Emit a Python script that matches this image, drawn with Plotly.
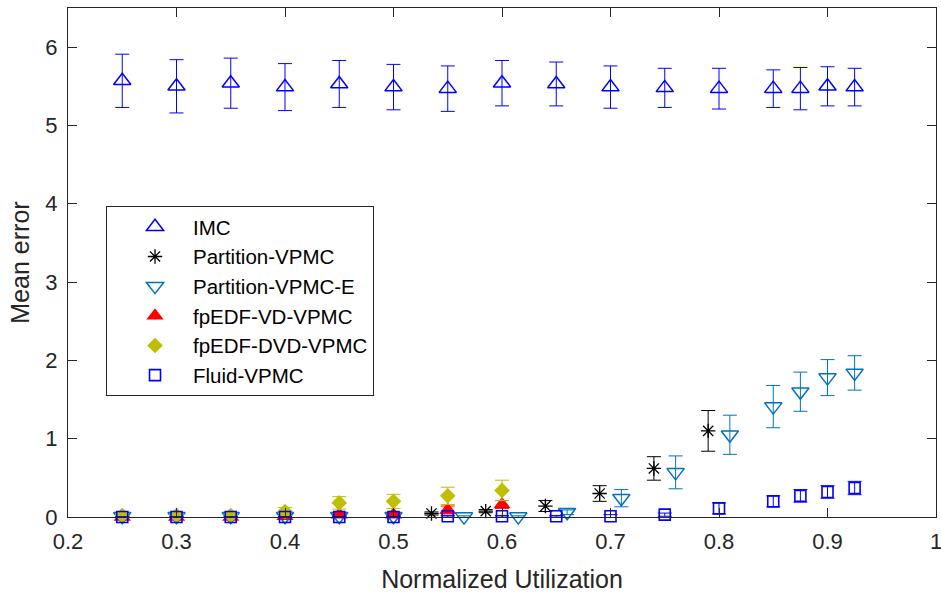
import plotly.graph_objects as go

# Normalized utilization levels
u_imc = [0.25, 0.3, 0.35, 0.4, 0.45, 0.5, 0.55, 0.6, 0.65, 0.7, 0.75, 0.8, 0.85, 0.875, 0.9, 0.925]
imc_mean = [5.57, 5.50, 5.54, 5.49, 5.53, 5.49, 5.47, 5.54, 5.53, 5.49, 5.48, 5.47, 5.47, 5.47, 5.50, 5.49]
imc_err = [0.34, 0.34, 0.32, 0.30, 0.30, 0.29, 0.29, 0.29, 0.28, 0.27, 0.25, 0.26, 0.24, 0.27, 0.25, 0.24]

u_part = [0.535, 0.585, 0.64, 0.69, 0.74, 0.79]
part_mean = [0.045, 0.075, 0.14, 0.30, 0.62, 1.10]
part_err = [0.02, 0.02, 0.07, 0.10, 0.15, 0.26]

u_parte = [0.25, 0.3, 0.35, 0.4, 0.45, 0.5, 0.565, 0.615, 0.66, 0.71, 0.76, 0.81, 0.85, 0.875, 0.9, 0.925]
parte_mean = [0.01, 0.01, 0.01, 0.01, 0.01, 0.01, 0.005, 0.005, 0.06, 0.24, 0.57, 1.05, 1.41, 1.60, 1.78, 1.84]
parte_err = [0.01, 0.01, 0.01, 0.01, 0.01, 0.01, 0.01, 0.01, 0.03, 0.11, 0.21, 0.25, 0.27, 0.25, 0.23, 0.22]

u_vd = [0.25, 0.3, 0.35, 0.4, 0.45, 0.5, 0.55, 0.6]
vd_mean = [0.0, 0.0, 0.0, 0.01, 0.03, 0.03, 0.09, 0.16]
vd_err = [0.005, 0.005, 0.005, 0.01, 0.02, 0.02, 0.05, 0.05]

u_dvd = [0.25, 0.3, 0.35, 0.4, 0.45, 0.5, 0.55, 0.6]
dvd_mean = [0.02, 0.02, 0.02, 0.07, 0.18, 0.20, 0.27, 0.34]
dvd_err = [0.01, 0.01, 0.01, 0.05, 0.08, 0.09, 0.11, 0.13]

u_fluid = [0.25, 0.3, 0.35, 0.4, 0.45, 0.5, 0.55, 0.6, 0.65, 0.7, 0.75, 0.8, 0.85, 0.875, 0.9, 0.925]
fluid_mean = [0.0, 0.0, 0.0, 0.0, 0.0, 0.0, 0.01, 0.01, 0.01, 0.01, 0.03, 0.11, 0.20, 0.27, 0.32, 0.37]
fluid_err = [0.005, 0.005, 0.005, 0.005, 0.005, 0.005, 0.01, 0.01, 0.01, 0.02, 0.02, 0.07, 0.07, 0.08, 0.08, 0.085]

x_ticks = [0.2, 0.3, 0.4, 0.5, 0.6, 0.7, 0.8, 0.9, 1.0]
x_tick_text = ["0.2", "0.3", "0.4", "0.5", "0.6", "0.7", "0.8", "0.9", "1"]
y_ticks = [0, 1, 2, 3, 4, 5, 6]

AX = "#262626"
FONT = "Liberation Sans, Arial, sans-serif"

series = [
    ("IMC", u_imc, imc_mean, imc_err, "#0000ff", "triangle-up-open", 15, 1.5),
    ("Partition-VPMC", u_part, part_mean, part_err, "#000000", "asterisk-open", 12, 1.3),
    ("Partition-VPMC-E", u_parte, parte_mean, parte_err, "#0072bd", "triangle-down-open", 15, 1.5),
    ("fpEDF-VD-VPMC", u_vd, vd_mean, vd_err, "#ff0000", "triangle-up", 15, 0),
    ("fpEDF-DVD-VPMC", u_dvd, dvd_mean, dvd_err, "#bfbf00", "diamond", 12, 0),
    ("Fluid-VPMC", u_fluid, fluid_mean, fluid_err, "#0000ff", "square-open", 11, 1.6),
]

fig = go.Figure()
for name, xs, ys, es, color, symbol, size, lw in series:
    fig.add_trace(go.Scatter(
        x=xs, y=ys, name=name, mode="markers", cliponaxis=False,
        marker=dict(symbol=symbol, size=size, color=color,
                    line=dict(color=color, width=lw)),
        error_y=dict(type="data", array=es, visible=True, width=7,
                     thickness=1, color=color),
    ))

axis_common = dict(
    showline=True, linecolor=AX, linewidth=1, mirror="ticks",
    ticks="inside", ticklen=9, tickwidth=1, tickcolor=AX,
    showgrid=False, zeroline=False, ticklabeloverflow="allow",
    tickfont=dict(family=FONT, size=22, color=AX),
)

fig.update_xaxes(
    range=[0.2, 1.0], tickvals=x_ticks, ticktext=x_tick_text, ticklabelstandoff=5,
    title=dict(text="Normalized Utilization", font=dict(family=FONT, size=25, color=AX), standoff=17),
    **axis_common,
)
fig.update_yaxes(
    range=[0, 6.5], tickvals=y_ticks, ticklabelstandoff=5,
    title=dict(text="Mean error", font=dict(family=FONT, size=25, color=AX), standoff=8),
    **axis_common,
)

fig.update_layout(
    width=941, height=597,
    margin=dict(l=68, r=5, t=8, b=80, autoexpand=False),
    paper_bgcolor="white", plot_bgcolor="white",
    font=dict(family=FONT, color=AX),
    legend=dict(
        x=0.0438, y=0.611, xanchor="left", yanchor="top",
        bgcolor="white", bordercolor=AX, borderwidth=1,
        font=dict(family=FONT, size=20.5, color="#000000"),
        itemwidth=66, indentation=10,
    ),
    showlegend=True,
)

fig.write_html("out.html")
